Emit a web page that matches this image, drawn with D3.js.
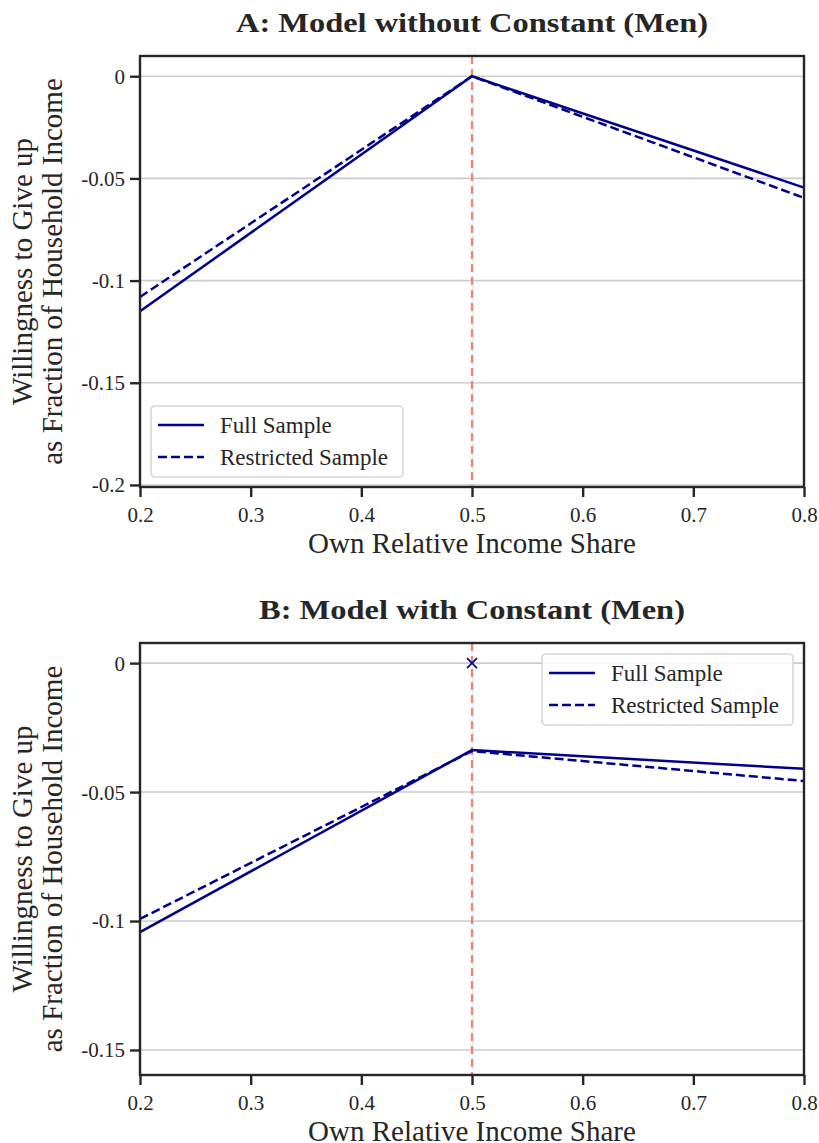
<!DOCTYPE html>
<html>
<head>
<meta charset="utf-8">
<script src="https://cdn.jsdelivr.net/npm/d3@7"></script>
<style>
body{margin:0;background:#fff;}
text{font-family:"Liberation Serif","DejaVu Serif",serif;fill:#262626;}
</style>
</head>
<body>
<svg id="chart" width="819" height="1143"></svg>
<script>
// x positions shared by both panels
const shares = [0.2, 0.5, 0.8];
const xTicks = [0.2, 0.3, 0.4, 0.5, 0.6, 0.7, 0.8];

// panel A: model without constant
const fullA = [-0.115, 0, -0.0545];
const restrA = [-0.108, 0, -0.0595];
const yTicksA = [0, -0.05, -0.1, -0.15, -0.2];

// panel B: model with constant
const fullB = [-0.1043, -0.0337, -0.041];
const restrB = [-0.0992, -0.0341, -0.0457];
const yTicksB = [0, -0.05, -0.1, -0.15];
const markerB = [{x:0.5, y:0}];

const seriesNames = ['Full Sample', 'Restricted Sample'];

const navy = '#00008b';
const svg = d3.select('#chart');

function fmt(v){
	if(v===0) return '0';
	return String(+v.toFixed(2)); //plain hyphen like the original
}

function panel(opt){
	const _m = opt.m;
	const x = d3.scaleLinear().domain([0.2,0.8]).range([_m.l,_m.r]);
	const y = d3.scaleLinear().domain(opt.yDomain).range([_m.b,_m.t]);
	const g = svg.append('g');

	//gridlines
	g.selectAll('.grid')
		.data(opt.yTicks)
		.enter()
		.append('line').attr('class','grid')
		.attr('x1',_m.l).attr('x2',_m.r)
		.attr('y1',d=>y(d)).attr('y2',d=>y(d))
		.style('stroke','#cccccc')
		.style('stroke-width',1.6);

	//vertical reference at 0.5
	g.append('line')
		.attr('x1',x(0.5)).attr('x2',x(0.5))
		.attr('y1',_m.t).attr('y2',_m.b)
		.style('stroke','#f4806d')
		.style('stroke-width',2.2)
		.style('stroke-dasharray','8,5');

	const line = d3.line()
		.x((d,i)=>x(shares[i]))
		.y(d=>y(d));

	g.append('path')
		.datum(opt.full)
		.attr('d',line)
		.style('fill','none')
		.style('stroke',navy)
		.style('stroke-width',2.5);
	g.append('path')
		.datum(opt.restr)
		.attr('d',line)
		.style('fill','none')
		.style('stroke',navy)
		.style('stroke-width',2.5)
		.style('stroke-dasharray','9,4');

	if(opt.marker){
		const s = 5;
		opt.marker.forEach(p=>{
			g.append('path')
				.attr('d',`M${x(p.x)-s},${y(p.y)-s}L${x(p.x)+s},${y(p.y)+s}M${x(p.x)-s},${y(p.y)+s}L${x(p.x)+s},${y(p.y)-s}`)
				.style('stroke',navy)
				.style('stroke-width',1.6);
		});
	}

	//axes
	const xAxis = g.append('g')
		.attr('transform',`translate(0,${_m.b})`)
		.call(d3.axisBottom(x).tickValues(xTicks).tickSize(10).tickPadding(6).tickFormat(d=>d.toFixed(1)));
	const yAxis = g.append('g')
		.attr('transform',`translate(${_m.l},0)`)
		.call(d3.axisLeft(y).tickValues(opt.yTicks).tickSize(10).tickPadding(5).tickFormat(fmt));
	[xAxis,yAxis].forEach(a=>{
		a.attr('font-family',null).attr('font-size',null);
		a.select('.domain').remove();
		a.selectAll('.tick line').style('stroke','#262626').style('stroke-width',2.4);
		a.selectAll('.tick text')
			.style('font-size','21px')
			.style('fill','#262626');
	});
	xAxis.selectAll('.tick text').attr('dy',null).attr('y',35);
	yAxis.selectAll('.tick text').attr('dy','0.33em');

	//frame
	g.append('rect')
		.attr('x',_m.l).attr('y',_m.t)
		.attr('width',_m.r-_m.l).attr('height',_m.b-_m.t)
		.style('fill','none')
		.style('stroke','#262626')
		.style('stroke-width',2.4);

	//title
	g.append('text')
		.attr('x',(_m.l+_m.r)/2).attr('y',_m.t-24)
		.attr('text-anchor','middle')
		.attr('textLength',opt.titleW)
		.attr('lengthAdjust','spacingAndGlyphs')
		.style('font-size','27px')
		.style('font-weight','bold')
		.text(opt.title);

	//x label
	g.append('text')
		.attr('x',(_m.l+_m.r)/2).attr('y',_m.b+66)
		.attr('text-anchor','middle')
		.style('font-size','29px')
		.text('Own Relative Income Share');

	//y label, two lines
	const cy = (_m.t+_m.b)/2;
	g.append('text')
		.attr('transform',`translate(32,${cy}) rotate(-90)`)
		.attr('text-anchor','middle')
		.style('font-size','29px')
		.text('Willingness to Give up');
	g.append('text')
		.attr('transform',`translate(62,${cy}) rotate(-90)`)
		.attr('text-anchor','middle')
		.style('font-size','29px')
		.text('as Fraction of Household Income');

	//legend
	const L = opt.legend;
	const leg = g.append('g').attr('transform',`translate(${L.x},${L.y})`);
	leg.append('rect')
		.attr('width',L.w).attr('height',71)
		.attr('rx',4)
		.style('fill','rgba(255,255,255,0.85)')
		.style('stroke','#d6d6d6')
		.style('stroke-width',1.6);
	const items = leg.selectAll('.item')
		.data(seriesNames)
		.enter()
		.append('g').attr('class','item')
		.attr('transform',(d,i)=>`translate(0,${19+i*32})`);
	items.append('line')
		.attr('x1',7).attr('x2',53)
		.style('stroke',navy)
		.style('stroke-width',2.5)
		.style('stroke-dasharray',(d,i)=>i?'9,4':null);
	items.append('text')
		.attr('x',69).attr('dy','0.35em')
		.style('font-size','23px')
		.text(d=>d);
}

panel({
	m:{l:140,r:804,t:56,b:487},
	yDomain:[-0.201,0.0099],
	yTicks:yTicksA,
	full:fullA, restr:restrA,
	title:'A: Model without Constant (Men)', titleW:472,
	legend:{x:151,y:406,w:252}
});

panel({
	m:{l:140,r:804,t:643,b:1075},
	yDomain:[-0.1597,0.0078],
	yTicks:yTicksB,
	full:fullB, restr:restrB,
	marker:markerB,
	title:'B: Model with Constant (Men)', titleW:426,
	legend:{x:542,y:654,w:251}
});
</script>
</body>
</html>
